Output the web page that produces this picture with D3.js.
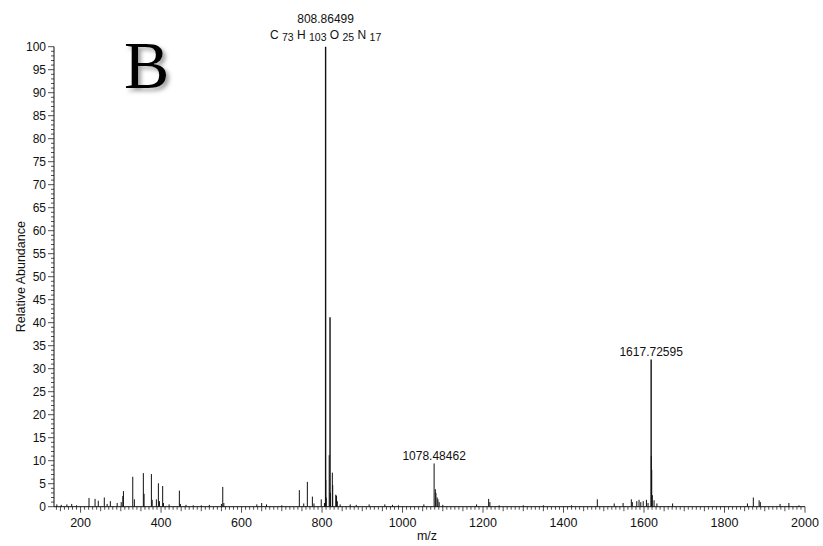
<!DOCTYPE html>
<html>
<head>
<meta charset="utf-8">
<script src="https://cdn.jsdelivr.net/npm/d3@7"></script>
<style>
  html, body { margin: 0; padding: 0; background: #fff; }
  svg { display: block; font-family: "Liberation Sans", Arial, sans-serif; }
</style>
</head>
<body>
<svg id="chart" width="823" height="546"></svg>
<script>
// ---- data ----
const peakMz = [141, 152, 166, 178, 190,
  221, 236, 244, 259, 266, 274, 291, 301, 305, 306.5,
  329.7, 333.7, 356, 357.8, 376, 378, 388.4, 393.4, 396, 404, 406, 420, 445.5, 448, 462, 480, 500, 520,
  550, 553.3, 556, 638, 650, 662, 700,
  743.6, 754.5, 763.5, 776, 780, 798, 806, 808.86499, 809.36, 810.4, 817.8, 819.85, 820.8, 825.6, 826.5, 834, 836, 838, 845,
  870, 885, 917, 956, 975, 990, 1053,
  1078.48462, 1081.5, 1083, 1086, 1088, 1091, 1100,
  1184, 1214, 1217, 1240, 1300, 1350, 1420,
  1484, 1526, 1548, 1568.5, 1571, 1582, 1587.6, 1592, 1598, 1606, 1610, 1617.72595, 1618.2, 1619.2, 1620.7, 1625, 1632, 1671,
  1857, 1871.6, 1886, 1889, 1938, 1960, 1985];
const peakInt = [0.5, 0.4, 0.5, 0.6, 0.3,
  1.9, 1.7, 1.3, 2.0, 0.6, 1.2, 0.8, 1.0, 2.3, 3.4,
  6.5, 1.6, 7.3, 2.8, 7.1, 1.5, 1.6, 5.1, 1.2, 4.5, 0.8, 0.5, 3.5, 0.6, 0.4, 0.3, 0.3, 0.4,
  0.6, 4.3, 0.8, 0.5, 0.8, 0.5, 0.3,
  3.6, 0.7, 5.4, 2.2, 0.7, 1.6, 0.8, 100, 5.8, 2.0, 11.2, 41.2, 3.0, 7.4, 4.7, 2.6, 2.4, 1.2, 0.5,
  0.5, 0.4, 0.5, 0.5, 0.4, 0.3, 0.5,
  9.4, 3.8, 3.0, 2.0, 1.6, 1.0, 0.4,
  0.5, 1.7, 1.0, 0.3, 0.3, 0.3, 0.3,
  1.6, 0.7, 0.8, 1.6, 1.0, 1.2, 1.5, 1.0, 1.2, 1.5, 0.8, 32, 11, 8, 2.5, 1.4, 0.7, 0.7,
  0.7, 2.0, 1.4, 1.0, 0.6, 0.8, 0.3];

const labelMz = [808.86499, 1078.48462, 1617.72595];
const labelInt = [100, 9.4, 32];
const labelText = ["808.86499", "1078.48462", "1617.72595"];

const formulaParts = [["C", "73"], ["H", "103"], ["O", "25"], ["N", "17"]];

const xMajorTicks = [200, 400, 600, 800, 1000, 1200, 1400, 1600, 1800, 2000];
const yMajorTicks = [0, 5, 10, 15, 20, 25, 30, 35, 40, 45, 50, 55, 60, 65, 70, 75, 80, 85, 90, 95, 100];

const xTitle = "m/z";
const yTitle = "Relative Abundance";
const panelLetter = "B";

// ---- layout ----
const svg = d3.select("#chart");
const x = d3.scaleLinear().domain([134, 2000]).range([54, 805]);
const y = d3.scaleLinear().domain([0, 100]).range([506.7, 46.7]);

// drop shadow filter for the panel letter
const defs = svg.append("defs");
const f = defs.append("filter").attr("id", "shadow").attr("x", "-20%").attr("y", "-20%").attr("width", "150%").attr("height", "150%");
f.append("feDropShadow").attr("dx", 3).attr("dy", 3).attr("stdDeviation", 2.2)
  .attr("flood-color", "#777").attr("flood-opacity", 0.7);

// peaks
svg.append("g").selectAll("line").data(peakMz).join("line")
  .attr("x1", d => x(d)).attr("x2", d => x(d))
  .attr("y1", y(0))
  .attr("y2", (d, i) => y(peakInt[i]))
  .attr("stroke", "#111")
  .attr("stroke-width", (d, i) => peakInt[i] > 30 ? 1.4 : 1);

// x axis
const xAxisG = svg.append("g").attr("transform", `translate(0,${y(0)})`);
const minorX = d3.range(140, 2001, 10);
xAxisG.selectAll("line.minor").data(minorX).join("line")
  .attr("class", "minor")
  .attr("x1", d => x(d)).attr("x2", d => x(d))
  .attr("y1", 0).attr("y2", d => d % 200 === 0 ? 6 : (d % 50 === 0 ? 4.5 : 3))
  .attr("stroke", "#222").attr("stroke-width", 0.8);
xAxisG.append("line").attr("x1", x(134)).attr("x2", x(2000)).attr("y1", 0).attr("y2", 0)
  .attr("stroke", "#111").attr("stroke-width", 1);
xAxisG.selectAll("text").data(xMajorTicks).join("text")
  .attr("x", d => x(d)).attr("y", 20)
  .attr("text-anchor", "middle").attr("font-size", 12.5).attr("fill", "#111")
  .text(d => d);

// y axis
const yAxisG = svg.append("g").attr("transform", `translate(${x(134)},0)`);
const minorY = d3.range(0, 101, 1);
yAxisG.selectAll("line.minor").data(minorY).join("line")
  .attr("x1", d => d % 5 === 0 ? -6 : -3).attr("x2", 0)
  .attr("y1", d => y(d)).attr("y2", d => y(d))
  .attr("stroke", "#222").attr("stroke-width", 0.8);
yAxisG.append("line").attr("x1", 0).attr("x2", 0).attr("y1", y(0)).attr("y2", y(100))
  .attr("stroke", "#111").attr("stroke-width", 1);
yAxisG.selectAll("text").data(yMajorTicks).join("text")
  .attr("x", -8).attr("y", d => y(d)).attr("dy", "0.35em")
  .attr("text-anchor", "end").attr("font-size", 12).attr("fill", "#111")
  .text(d => d);

// axis titles
svg.append("text").attr("x", 427).attr("y", 540)
  .attr("text-anchor", "middle").attr("font-size", 12.5).attr("fill", "#111").text(xTitle);
svg.append("text").attr("transform", `translate(25,${(y(0) + y(100)) / 2}) rotate(-90)`)
  .attr("text-anchor", "middle").attr("font-size", 12.5).attr("fill", "#111").text(yTitle);

// peak labels
labelMz.forEach((m, i) => {
  svg.append("text").attr("x", x(m)).attr("y", y(labelInt[i]) - (i === 0 ? 23.5 : 3.5))
    .attr("text-anchor", "middle").attr("font-size", 12).attr("fill", "#111")
    .text(labelText[i]);
});

// formula under the base peak label
const ft = svg.append("text").attr("x", x(labelMz[0])).attr("y", y(labelInt[0]) - 8)
  .attr("text-anchor", "middle").attr("font-size", 12).attr("fill", "#111");
formulaParts.forEach((p, i) => {
  ft.append("tspan").attr("font-size", 12).attr("dy", i === 0 ? 0 : -2.5).text((i === 0 ? "" : " ") + p[0] + " ");
  ft.append("tspan").attr("font-size", 10.5).attr("dy", 2.5).text(p[1]);
});

// panel letter
svg.append("text").attr("x", 124).attr("y", 88)
  .attr("font-family", "'Liberation Serif', 'Times New Roman', serif")
  .attr("font-size", 68).attr("fill", "#000").attr("filter", "url(#shadow)")
  .text(panelLetter);
</script>
</body>
</html>
